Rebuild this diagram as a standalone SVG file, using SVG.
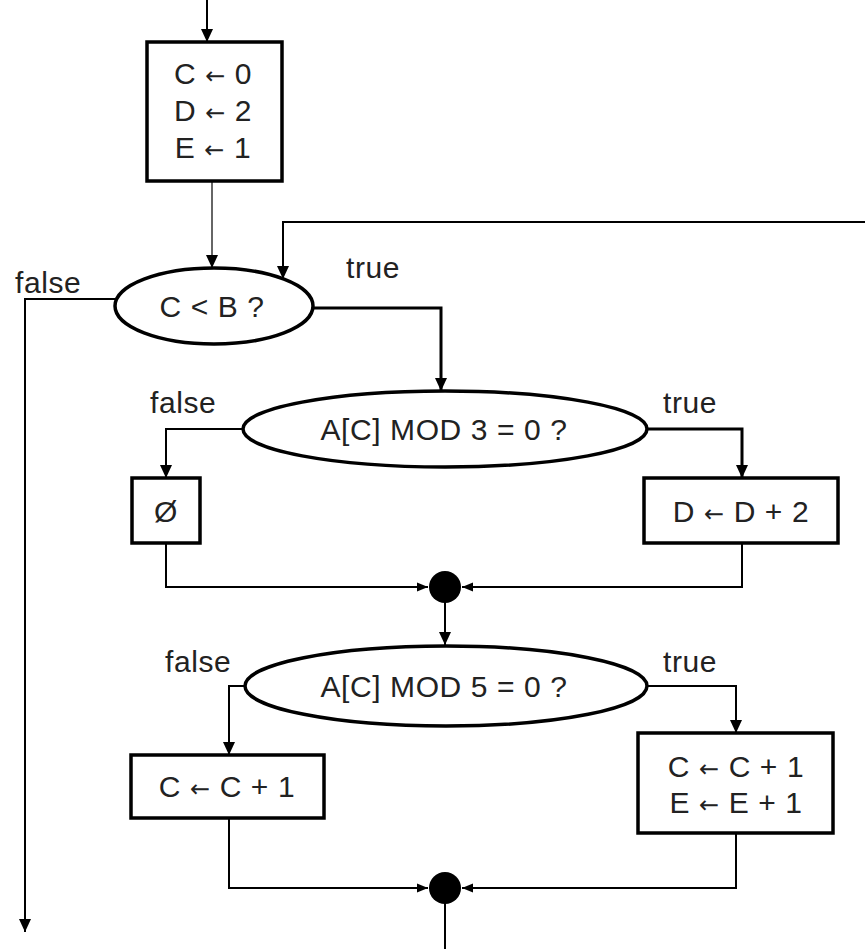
<svg xmlns="http://www.w3.org/2000/svg" width="865" height="949" viewBox="0 0 865 949">
<style>
.t{font-family:"Liberation Sans",Arial,sans-serif;font-size:30px;fill:#222;letter-spacing:0.6px;}
.c{text-anchor:middle;}
.ar{font-family:"DejaVu Sans",sans-serif;font-size:24px;}
.box{fill:#fff;stroke:#000;stroke-width:3.5;}
.ell{fill:#fff;stroke:#000;stroke-width:3.5;}
.ln{fill:none;stroke:#000;stroke-width:2;}
.thk{fill:none;stroke:#000;stroke-width:3;}
.gry{fill:none;stroke:#666;stroke-width:2;}
</style>
<defs>
<marker id="ah" markerUnits="userSpaceOnUse" markerWidth="14" markerHeight="14" refX="13" refY="7" orient="auto" viewBox="0 0 14 14">
<path d="M0,1 L13,7 L0,13 z" fill="#000"/>
</marker>
<marker id="ahs" markerUnits="userSpaceOnUse" markerWidth="12" markerHeight="12" refX="11" refY="6" orient="auto" viewBox="0 0 12 12">
<path d="M0,1.5 L11,6 L0,10.5 z" fill="#000"/>
</marker>
</defs>
<rect width="865" height="949" fill="#fff"/>
<g id="connectors">
<line class="ln" x1="207" y1="0" x2="207" y2="42" marker-end="url(#ah)"/>
<line class="gry" x1="212" y1="181" x2="212" y2="268" marker-end="url(#ah)"/>
<polyline class="ln" points="865,222 283,222 283,279" marker-end="url(#ah)"/>
<polyline class="ln" points="115,299 25,299 25,932" marker-end="url(#ah)"/>
<polyline class="thk" points="312,308 441,308 441,391" marker-end="url(#ah)"/>
<polyline class="ln" points="243,429 166,429 166,478" marker-end="url(#ah)"/>
<polyline class="thk" points="647,429 742,429 742,478" marker-end="url(#ah)"/>
<polyline class="ln" points="166,543 166,587 428,587" marker-end="url(#ahs)"/>
<polyline class="ln" points="742,543 742,587 462,587" marker-end="url(#ahs)"/>
<line class="ln" x1="445" y1="600" x2="445" y2="645" marker-end="url(#ah)"/>
<polyline class="ln" points="246,686 229,686 229,755" marker-end="url(#ah)"/>
<polyline class="ln" points="646,686 736,686 736,733" marker-end="url(#ah)"/>
<polyline class="ln" points="229,818 229,888 428,888" marker-end="url(#ahs)"/>
<polyline class="ln" points="736,833 736,888 462,888" marker-end="url(#ahs)"/>
<line class="ln" x1="445" y1="900" x2="445" y2="949"/>
</g>
<g id="init">
<rect class="box" x="147" y="42" width="135" height="139"/>
<text class="t c" x="213" y="84">C <tspan class="ar">←</tspan> 0</text>
<text class="t c" x="213" y="121">D <tspan class="ar">←</tspan> 2</text>
<text class="t c" x="213" y="158">E <tspan class="ar">←</tspan> 1</text>
</g>
<g id="cond1">
<ellipse class="ell" cx="214" cy="306" rx="99" ry="38"/>
<text class="t c" x="212" y="317">C &lt; B ?</text>
<text class="t" x="15" y="293">false</text>
<text class="t" x="346" y="278">true</text>
</g>
<g id="cond2">
<ellipse class="ell" cx="445" cy="429" rx="202" ry="38"/>
<text class="t c" x="444" y="440">A[C] MOD 3 = 0 ?</text>
<text class="t" x="150" y="413">false</text>
<text class="t" x="663" y="413">true</text>
</g>
<g id="empty">
<rect class="box" x="132" y="478" width="68" height="65"/>
<text class="t c" x="166" y="522">Ø</text>
</g>
<g id="incD">
<rect class="box" x="644" y="478" width="194" height="65"/>
<text class="t c" x="741" y="522">D <tspan class="ar">←</tspan> D + 2</text>
</g>
<g id="merge1">
<circle cx="445" cy="587" r="16" fill="#000"/>
</g>
<g id="cond3">
<ellipse class="ell" cx="446" cy="686" rx="201" ry="40"/>
<text class="t c" x="444" y="697">A[C] MOD 5 = 0 ?</text>
<text class="t" x="165" y="672">false</text>
<text class="t" x="663" y="672">true</text>
</g>
<g id="incC">
<rect class="box" x="131" y="755" width="193" height="63"/>
<text class="t c" x="227" y="797">C <tspan class="ar">←</tspan> C + 1</text>
</g>
<g id="incCE">
<rect class="box" x="638" y="733" width="195" height="100"/>
<text class="t c" x="736" y="777">C <tspan class="ar">←</tspan> C + 1</text>
<text class="t c" x="736" y="813">E <tspan class="ar">←</tspan> E + 1</text>
</g>
<g id="merge2">
<circle cx="445" cy="888" r="16" fill="#000"/>
</g>
</svg>
